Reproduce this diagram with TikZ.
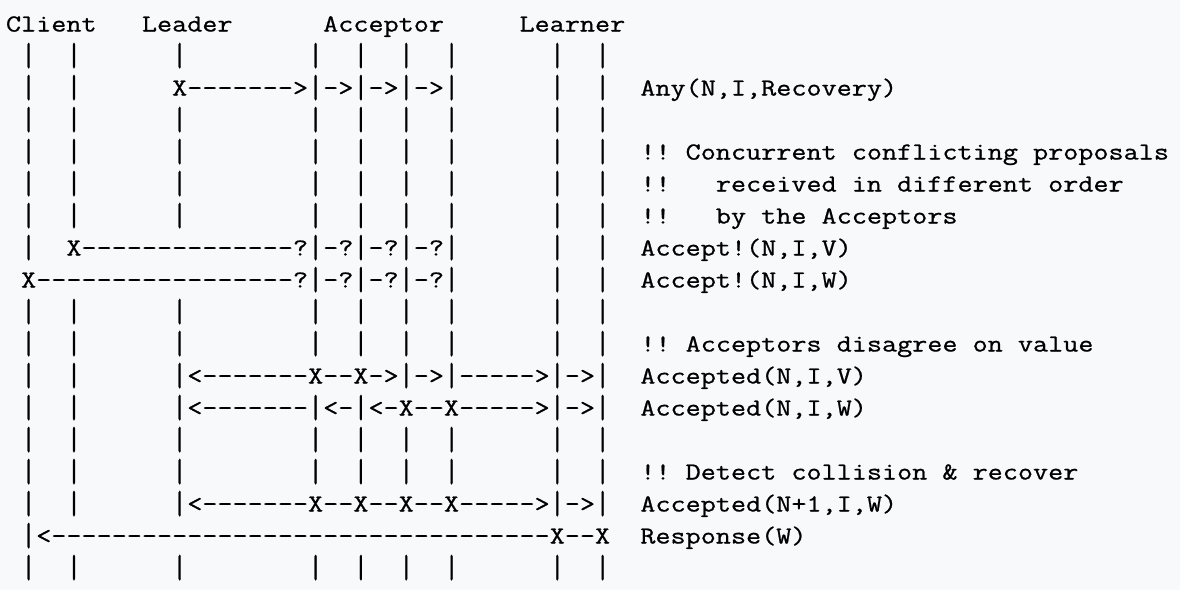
\documentclass[tikz,border=0pt]{standalone}
\usepackage{graphicx}
\usepackage{fontspec}
\setmonofont{Latin Modern Mono}[FakeStretch=1.2,FakeBold=0.8]
\definecolor{pagebg}{HTML}{F8F9FA}
\definecolor{ink}{HTML}{000000}
\newcommand\vb{\raisebox{-0.09em}{\scalebox{1}[1.35]{|}}}
\begin{document}
\begin{tikzpicture}[x=1pt,y=1pt,
  asciirow/.style={anchor=base west, inner sep=0pt, outer sep=0pt,
    font=\ttfamily\fontsize{12.22}{16}\selectfont, text=ink}]
\fill[pagebg] (0,0) rectangle (590,-295);
\useasboundingbox (0,0) rectangle (590,-295);
\node[asciirow] (l0) at (3.0,-15.75) {Client~~~Leader~~~~~~Acceptor~~~~~Learner};
\node[asciirow] (l1) at (3.0,-31.75) {~\vb~~\vb~~~~~~\vb~~~~~~~~\vb~~\vb~~\vb~~\vb~~~~~~\vb~~\vb};
\node[asciirow] (l2) at (3.0,-47.75) {~\vb~~\vb~~~~~~X------->\vb->\vb->\vb->\vb~~~~~~\vb~~\vb~~Any(N,I,Recovery)};
\node[asciirow] (l3) at (3.0,-63.75) {~\vb~~\vb~~~~~~\vb~~~~~~~~\vb~~\vb~~\vb~~\vb~~~~~~\vb~~\vb};
\node[asciirow] (l4) at (3.0,-79.75) {~\vb~~\vb~~~~~~\vb~~~~~~~~\vb~~\vb~~\vb~~\vb~~~~~~\vb~~\vb~~!!~Concurrent~conflicting~proposals};
\node[asciirow] (l5) at (3.0,-95.75) {~\vb~~\vb~~~~~~\vb~~~~~~~~\vb~~\vb~~\vb~~\vb~~~~~~\vb~~\vb~~!!~~~received~in~different~order};
\node[asciirow] (l6) at (3.0,-111.75) {~\vb~~\vb~~~~~~\vb~~~~~~~~\vb~~\vb~~\vb~~\vb~~~~~~\vb~~\vb~~!!~~~by~the~Acceptors};
\node[asciirow] (l7) at (3.0,-127.75) {~\vb~~X--------------?\vb-?\vb-?\vb-?\vb~~~~~~\vb~~\vb~~Accept!(N,I,V)};
\node[asciirow] (l8) at (3.0,-143.75) {~X-----------------?\vb-?\vb-?\vb-?\vb~~~~~~\vb~~\vb~~Accept!(N,I,W)};
\node[asciirow] (l9) at (3.0,-159.75) {~\vb~~\vb~~~~~~\vb~~~~~~~~\vb~~\vb~~\vb~~\vb~~~~~~\vb~~\vb};
\node[asciirow] (l10) at (3.0,-175.75) {~\vb~~\vb~~~~~~\vb~~~~~~~~\vb~~\vb~~\vb~~\vb~~~~~~\vb~~\vb~~!!~Acceptors~disagree~on~value};
\node[asciirow] (l11) at (3.0,-191.75) {~\vb~~\vb~~~~~~\vb<-------X--X->\vb->\vb----->\vb->\vb~~Accepted(N,I,V)};
\node[asciirow] (l12) at (3.0,-207.75) {~\vb~~\vb~~~~~~\vb<-------\vb<-\vb<-X--X----->\vb->\vb~~Accepted(N,I,W)};
\node[asciirow] (l13) at (3.0,-223.75) {~\vb~~\vb~~~~~~\vb~~~~~~~~\vb~~\vb~~\vb~~\vb~~~~~~\vb~~\vb};
\node[asciirow] (l14) at (3.0,-239.75) {~\vb~~\vb~~~~~~\vb~~~~~~~~\vb~~\vb~~\vb~~\vb~~~~~~\vb~~\vb~~!!~Detect~collision~\&~recover};
\node[asciirow] (l15) at (3.0,-255.75) {~\vb~~\vb~~~~~~\vb<-------X--X--X--X----->\vb->\vb~~Accepted(N+1,I,W)};
\node[asciirow] (l16) at (3.0,-271.75) {~\vb<---------------------------------X--X~~Response(W)};
\node[asciirow] (l17) at (3.0,-287.75) {~\vb~~\vb~~~~~~\vb~~~~~~~~\vb~~\vb~~\vb~~\vb~~~~~~\vb~~\vb};
\end{tikzpicture}
\end{document}
